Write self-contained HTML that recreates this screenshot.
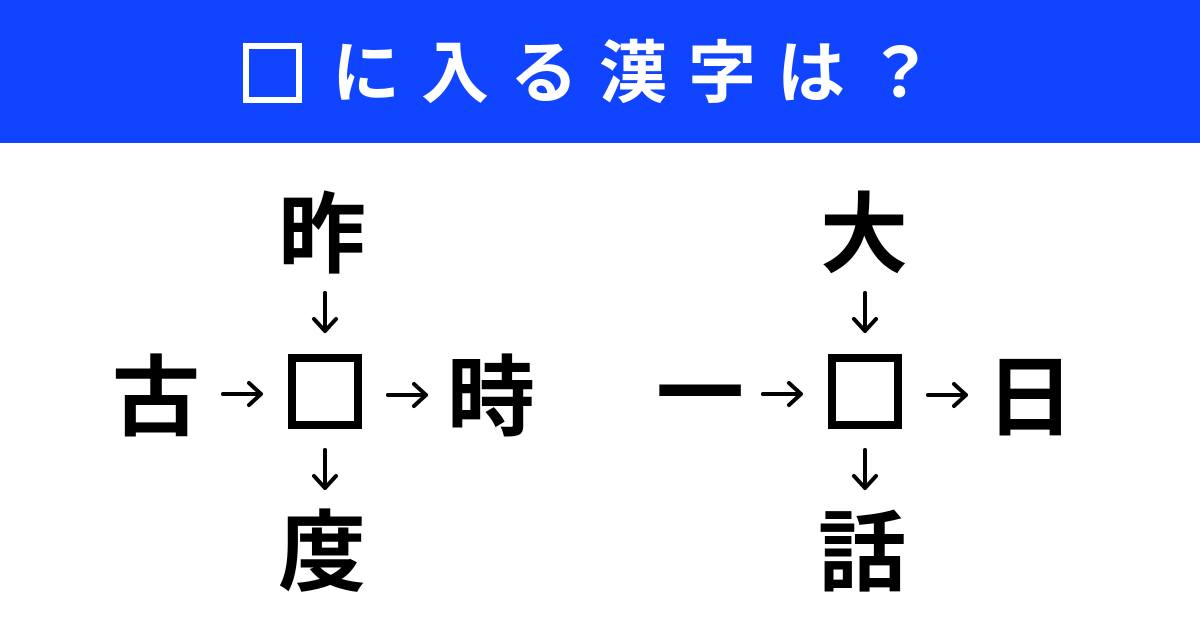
<!DOCTYPE html>
<html><head><meta charset="utf-8"><style>
html,body{margin:0;padding:0;background:#fff;}
svg{display:block}
text{font-family:"Liberation Sans","Noto Sans CJK JP",sans-serif;font-weight:700}
</style></head><body>
<svg width="1200" height="628" viewBox="0 0 1200 628" xmlns="http://www.w3.org/2000/svg">
<rect x="0" y="0" width="1200" height="143" fill="#1144ff"/>
<rect x="246" y="46" width="53" height="54" fill="none" stroke="#fff" stroke-width="6"/>
<text x="332" y="74" fill="#fff" font-size="68" text-anchor="start" dominant-baseline="central" letter-spacing="21">に入る漢字は？</text>
<g fill="#000" font-size="88" text-anchor="middle" dominant-baseline="central">
<text x="322" y="235">昨</text>
<text x="156" y="398">古</text>
<text x="491" y="398">時</text>
<text x="322" y="553">度</text>
<text x="864" y="235">大</text>
<text x="700" y="394">一</text>
<text x="1030" y="398">日</text>
<text x="862" y="553">話</text>
</g>
<defs>
<g id="dn" fill="none" stroke="#000" stroke-width="4" stroke-linecap="round" stroke-linejoin="round">
<path d="M0 0 V38 M-11 26 L0 38 L11 26"/>
</g>
<g id="rt" fill="none" stroke="#000" stroke-width="4" stroke-linecap="round" stroke-linejoin="round">
<path d="M0 0 H38 M26 -11 L38 0 L26 11"/>
</g>
</defs>
<g>
<use href="#dn" x="325" y="293"/>
<use href="#dn" x="325" y="450"/>
<use href="#rt" x="223" y="394"/>
<use href="#rt" x="388" y="395"/>
<rect x="292" y="358" width="66" height="67" fill="none" stroke="#000" stroke-width="8"/>
</g>
<g transform="translate(540,0)">
<use href="#dn" x="325" y="293"/>
<use href="#dn" x="325" y="450"/>
<use href="#rt" x="223" y="394"/>
<use href="#rt" x="388" y="395"/>
<rect x="292" y="358" width="66" height="67" fill="none" stroke="#000" stroke-width="8"/>
</g>
</svg>
</body></html>
